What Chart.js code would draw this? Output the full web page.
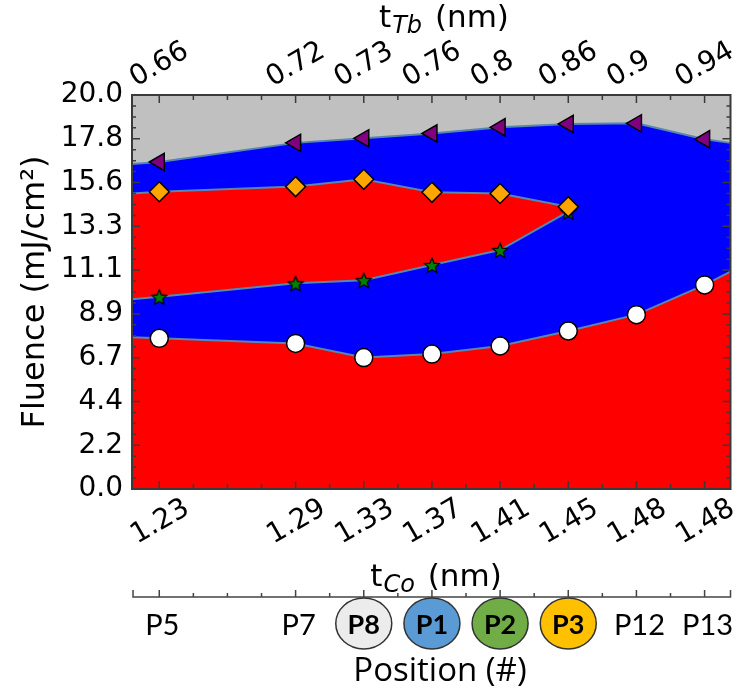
<!DOCTYPE html>
<html>
<head>
<meta charset="utf-8">
<script src="https://cdn.jsdelivr.net/npm/chart.js@4.4.1/dist/chart.umd.min.js"></script>
<style>
  html, body { margin: 0; padding: 0; background: #fff; }
</style>
</head>
<body>
<canvas id="chart" width="742" height="697"></canvas>
<script>
// positions along the sample, and where they sit on the x scale
const positions = ['P5', 'P7', 'P8', 'P1', 'P2', 'P3', 'P12', 'P13'];
const posIndex = [0, 2, 3, 4, 5, 6, 7, 8];
const tCoLabels = ['1.23', '1.29', '1.33', '1.37', '1.41', '1.45', '1.48', '1.48'];
const tTbLabels = ['0.66', '0.72', '0.73', '0.76', '0.8', '0.86', '0.9', '0.94'];
const yTickValues = [0, 2.222, 4.444, 6.667, 8.889, 11.111, 13.333, 15.556, 17.778, 20];
const yTickLabels = ['0.0', '2.2', '4.4', '6.7', '8.9', '11.1', '13.3', '15.6', '17.8', '20.0'];

// fluence thresholds (mJ/cm2), read per position
const triangleVals = [16.6, 17.57, 17.8, 18.05, 18.36, 18.53, 18.56, 17.75];
const diamondVals = [15.09, 15.35, 15.72, 15.06, 15.0, 14.33]; // P5..P3
const starVals = [9.76, 10.44, 10.6, 11.37, 12.13, 14.08];     // P5..P3
const circleVals = [7.65, 7.39, 6.67, 6.85, 7.26, 8.02, 8.85, 10.36];

// where each boundary meets the left / right frame
const xEdges = [-0.4, 8.38];
const triangleEdge = [16.5, 17.57];
const diamondEdgeLeft = 15.0;
const starEdgeLeft = 9.63;
const circleEdge = [7.7, 11.03];

// highlighted positions under the axis
const circled = { P8: '#ececec', P1: '#5b9bd5', P2: '#70ad47', P3: '#ffc000' };

const EDGE_COLOR = 'rgba(85,135,175,1)';
const RED = '#ff0000';
const BLUE = '#0000ff';

const pts = (xs, ys) => ys.map((y, i) => ({ x: xs[i], y: y }));
const firstSix = posIndex.slice(0, 6);

const triLine = pts([xEdges[0], ...posIndex, xEdges[1]], [triangleEdge[0], ...triangleVals, triangleEdge[1]]);
const diaLine = pts([xEdges[0], ...firstSix], [diamondEdgeLeft, ...diamondVals]);
const starLine = pts([xEdges[0], ...firstSix], [starEdgeLeft, ...starVals]);
const circLine = pts([xEdges[0], ...posIndex, xEdges[1]], [circleEdge[0], ...circleVals, circleEdge[1]]);

function makeStar(r) {
    const c = document.createElement('canvas');
    const size = Math.ceil(r * 2 + 4);
    c.width = size;
    c.height = size;
    const g = c.getContext('2d');
    g.beginPath();
    for (let k = 0; k < 10; k++) {
        const rr = k % 2 ? r * 0.45 : r;
        const a = -Math.PI / 2 + k * Math.PI / 5;
        g.lineTo(size / 2 + rr * Math.cos(a), size / 2 + rr * Math.sin(a) + 1);
    }
    g.closePath();
    g.fillStyle = '#008000';
    g.fill();
    g.lineWidth = 1.2;
    g.strokeStyle = '#000';
    g.stroke();
    return c;
}

const edge = (data, extra) => Object.assign({
    type: 'line', data: data, borderColor: EDGE_COLOR, borderWidth: 2,
    pointRadius: 0, tension: 0, fill: false
}, extra);

const markers = (data, extra) => Object.assign({
    type: 'line', data: data, showLine: false, pointBorderColor: '#000',
    pointBorderWidth: 1.5, pointHoverRadius: 0
}, extra);

const framePlugin = {
    id: 'frame',
    beforeDatasetsDraw(chart) {
        const { ctx, chartArea: a } = chart;
        ctx.save();
        ctx.fillStyle = '#c0c0c0';
        ctx.fillRect(a.left, a.top, a.width, a.height);
        ctx.restore();
    },
    afterDatasetsDraw(chart) {
        const { ctx, chartArea: a, scales } = chart;
        ctx.save();
        ctx.strokeStyle = '#3a3a3a';
        ctx.lineWidth = 1.5;
        ctx.beginPath();
        for (let k = 0; k <= 16; k++) {
            const v = k / 2;
            const px = scales.x.getPixelForValue(v);
            const len = posIndex.includes(v) ? 8 : 5;
            ctx.moveTo(px, a.bottom);
            ctx.lineTo(px, a.bottom - len);
            ctx.moveTo(px, a.top);
            ctx.lineTo(px, a.top + len);
        }
        for (let k = 0; k <= 36; k++) {
            const py = scales.y.getPixelForValue(k * 20 / 36);
            const len = k % 4 === 0 ? 8 : 4;
            ctx.moveTo(a.left, py);
            ctx.lineTo(a.left + len, py);
            ctx.moveTo(a.right, py);
            ctx.lineTo(a.right - len, py);
        }
        ctx.stroke();
        ctx.lineWidth = 2;
        ctx.strokeRect(a.left, a.top, a.width, a.height);
        ctx.restore();
    },
    afterDraw(chart) {
        const { ctx, chartArea: a, scales } = chart;
        ctx.save();
        ctx.fillStyle = '#000';
        ctx.textBaseline = 'alphabetic';
        ctx.textAlign = 'left';

        // axis titles with subscripts
        const MAIN = '31px "DejaVu Sans"';
        const SUB = 'italic 24px "DejaVu Sans"';
        const subTitle = (main, sub, rest, cx, base) => {
            ctx.font = MAIN;
            const w1 = ctx.measureText(main).width + 1;
            const w3 = ctx.measureText(rest).width;
            ctx.font = SUB;
            const w2 = ctx.measureText(sub).width + 3;
            let x = cx - (w1 + w2 + w3) / 2;
            ctx.font = MAIN;
            ctx.fillText(main, x, base);
            x += w1;
            ctx.font = SUB;
            ctx.fillText(sub, x, base + 6);
            x += w2;
            ctx.font = MAIN;
            ctx.fillText(rest, x, base);
        };
        subTitle('t', 'Tb', ' (nm)', 444, 27);
        subTitle('t', 'Co', ' (nm)', 436, 586);

        ctx.save();
        ctx.translate(44, (a.top + a.bottom) / 2);
        ctx.rotate(-Math.PI / 2);
        ctx.textAlign = 'center';
        ctx.font = '32px "DejaVu Sans"';
        ctx.fillText('Fluence (mJ/cm²)', 0, 0);
        ctx.restore();

        // position axis below the plot
        const py = 597;
        ctx.strokeStyle = '#444';
        ctx.lineWidth = 1.5;
        ctx.beginPath();
        ctx.moveTo(a.left + 1, py - 7);
        ctx.lineTo(a.left + 1, py);
        ctx.lineTo(a.right, py);
        ctx.lineTo(a.right, py - 7);
        for (let k = 0; k <= 16; k++) {
            const v = k / 2;
            const px = scales.x.getPixelForValue(v);
            ctx.moveTo(px, py);
            ctx.lineTo(px, py - (posIndex.includes(v) ? 7 : 4));
        }
        ctx.stroke();

        ctx.textAlign = 'center';
        positions.forEach((p, i) => {
            const px = scales.x.getPixelForValue(posIndex[i]);
            if (circled[p]) {
                ctx.beginPath();
                ctx.ellipse(px, 623.5, 28, 25.5, 0, 0, Math.PI * 2);
                ctx.fillStyle = circled[p];
                ctx.fill();
                ctx.strokeStyle = '#333';
                ctx.lineWidth = 1.5;
                ctx.stroke();
                ctx.fillStyle = '#000';
                ctx.font = 'bold 27px Lato';
                ctx.fillText(p, px, 634);
            } else {
                ctx.fillStyle = '#000';
                ctx.font = '29px Lato';
                ctx.fillText(p, px + 3, 635);
            }
        });
        ctx.font = '33px "Open Sans"';
        ctx.fillText('Position (#)', 440, 681);
        ctx.restore();
    }
};

const tickFont = { family: 'DejaVu Sans', size: 28 };

new Chart(document.getElementById('chart'), {
    data: {
        datasets: [
            markers(pts(firstSix, diamondVals), {
                order: 1, pointStyle: 'rectRot', pointRadius: 10, pointBackgroundColor: '#ffa500'
            }),
            markers(pts(firstSix, starVals), {
                order: 2, pointStyle: makeStar(8)
            }),
            markers(pts(posIndex, circleVals), {
                order: 3, pointStyle: 'circle', pointRadius: 9, pointBackgroundColor: '#ffffff'
            }),
            markers(pts(posIndex, triangleVals), {
                order: 4, pointStyle: 'triangle', pointRotation: -90, pointRadius: 10,
                pointBackgroundColor: '#800080'
            }),
            edge(circLine, { order: 7, fill: 'origin', backgroundColor: RED }),
            edge(starLine, { order: 8 }),
            edge(diaLine, { order: 9, fill: 5, backgroundColor: RED }),
            edge(triLine, { order: 10, fill: 'origin', backgroundColor: BLUE })
        ]
    },
    options: {
        responsive: false,
        animation: false,
        events: [],
        layout: { padding: { left: 0, right: 6, top: 0, bottom: 0 } },
        plugins: { legend: { display: false }, tooltip: { enabled: false } },
        scales: {
            x: {
                type: 'linear', position: 'bottom', min: xEdges[0], max: xEdges[1],
                grid: { display: false, drawTicks: false }, border: { display: false },
                afterBuildTicks: s => { s.ticks = posIndex.map(v => ({ value: v })); },
                ticks: {
                    autoSkip: false, minRotation: 30, maxRotation: 30, padding: 3, labelOffset: 28,
                    font: tickFont, color: '#000', callback: (v, i) => tCoLabels[i]
                },
                afterFit: s => { s.height = 208; s.paddingLeft = 0; s.paddingRight = 0; }
            },
            xTop: {
                type: 'linear', position: 'top', min: xEdges[0], max: xEdges[1],
                grid: { display: false, drawTicks: false }, border: { display: false },
                afterBuildTicks: s => { s.ticks = posIndex.map(v => ({ value: v })); },
                ticks: {
                    autoSkip: false, minRotation: 30, maxRotation: 30, padding: 0, labelOffset: -10,
                    font: tickFont, color: '#000', callback: (v, i) => tTbLabels[i]
                },
                afterFit: s => { s.height = 95; s.paddingLeft = 0; s.paddingRight = 0; }
            },
            y: {
                type: 'linear', position: 'left', min: 0, max: 20,
                grid: { display: false, drawTicks: false }, border: { display: false },
                afterBuildTicks: s => { s.ticks = yTickValues.map(v => ({ value: v })); },
                ticks: {
                    padding: 9, font: tickFont, color: '#000',
                    callback: (v, i) => yTickLabels[i]
                },
                afterFit: s => { s.width = 132; s.paddingTop = 0; s.paddingBottom = 0; }
            }
        }
    },
    plugins: [framePlugin]
});
</script>
</body>
</html>
